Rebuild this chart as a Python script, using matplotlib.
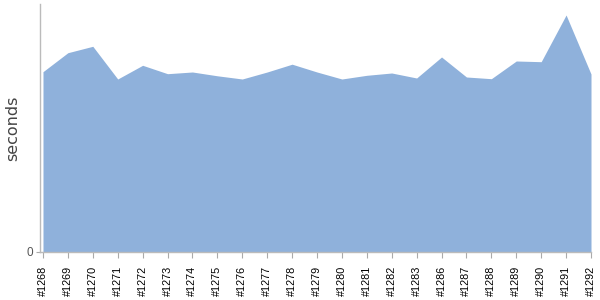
import numpy as np
import matplotlib.pyplot as plt

builds = ["#1268", "#1269", "#1270", "#1271", "#1272", "#1273", "#1274", "#1275",
          "#1276", "#1277", "#1278", "#1279", "#1280", "#1281", "#1282", "#1283",
          "#1286", "#1287", "#1288", "#1289", "#1290", "#1291", "#1292"]
seconds = [180.3, 199.3, 205.7, 173.0, 186.7, 178.3, 180.0, 176.2,
           173.0, 180.0, 187.8, 180.0, 173.0, 176.7, 179.0, 174.0,
           195.0, 175.0, 173.3, 191.0, 190.3, 237.0, 178.0]

plt.rcParams['font.family'] = ['Liberation Sans', 'DejaVu Sans']

fig = plt.figure(figsize=(6, 3), dpi=100)
ax = fig.add_axes([40 / 600, 48 / 300, 551 / 600, 248 / 300])

x = np.arange(len(builds))
ax.fill_between(x, seconds, 0, color='#8fb1db', linewidth=0)

ax.set_xlim(-0.12, len(builds) - 1)
ax.set_ylim(0, 248)

ax.set_xticks(x)
ax.set_xticklabels(builds, rotation=90, fontsize=7.8, color='black')
ax.set_yticks([0])
ax.set_yticklabels(['0'], fontsize=8.5, color='#555555')
ax.tick_params(axis='x', length=4, color='#aaaaaa', pad=6)
ax.tick_params(axis='y', length=3, color='#aaaaaa', pad=2)

ax.set_ylabel('seconds', fontsize=11.5, color='#444444', family='DejaVu Sans',
              ha='center', va='center')
ax.yaxis.set_label_coords(-0.049, 0.5)

for side in ['top', 'right']:
    ax.spines[side].set_visible(False)
for side in ['left', 'bottom']:
    ax.spines[side].set_color('#bbbbbb')
    ax.spines[side].set_linewidth(1)

fig.savefig('out.png', dpi=100)
